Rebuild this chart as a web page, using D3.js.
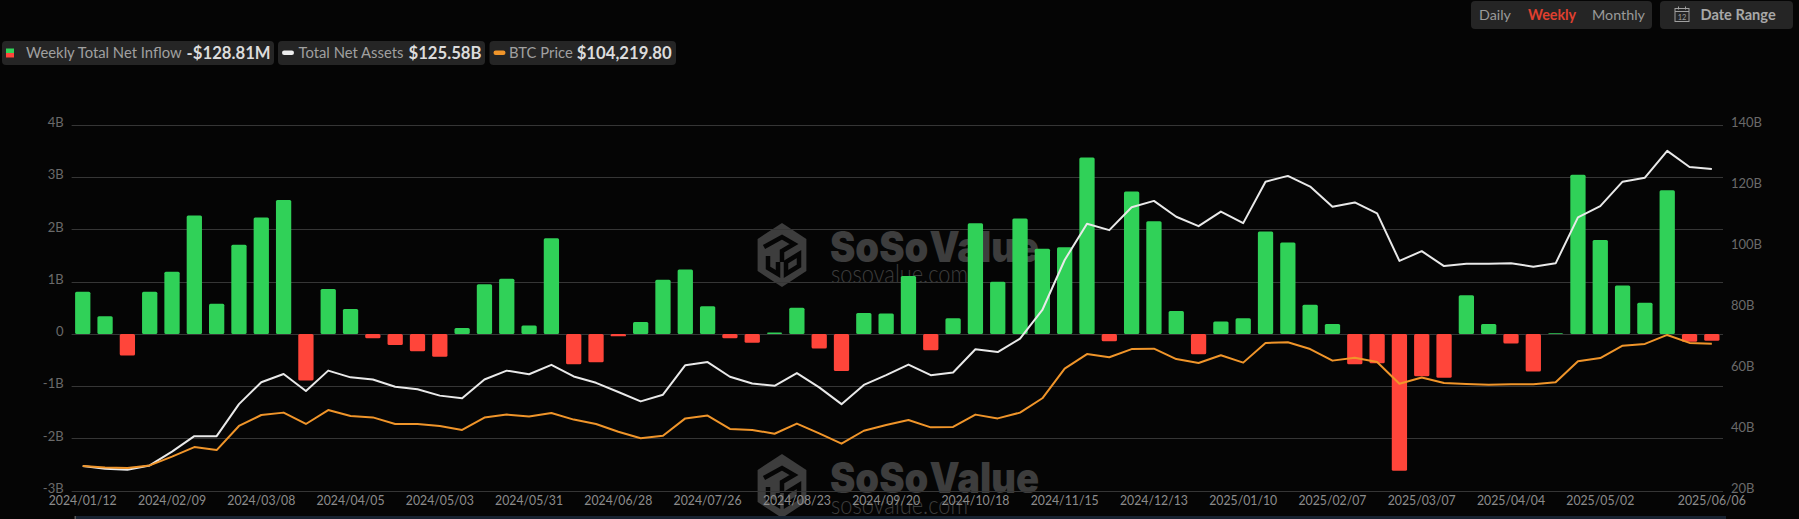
<!DOCTYPE html>
<html>
<head>
<meta charset="utf-8">
<script src="https://cdn.jsdelivr.net/npm/d3@7/dist/d3.min.js"></script>
<style>
html,body{margin:0;padding:0;background:#050505;overflow:hidden}
svg{display:block}
text{font-family:Lato,"Open Sans",sans-serif}
</style>
</head>
<body>
<svg id="chart" width="1799" height="519"></svg>
<script>
// ---- data ----
const firstDate = "2024-01-12";
const weekCount = 74;
const netInflowB = [0.81,0.34,-0.41,0.81,1.19,2.27,0.58,1.71,2.23,2.565,-0.89,0.86,0.48,-0.08,-0.21,-0.33,-0.435,0.115,0.95,1.055,0.16,1.83,-0.58,-0.54,-0.045,0.23,1.04,1.235,0.53,-0.08,-0.17,0.03,0.50,-0.28,-0.71,0.40,0.39,1.11,-0.31,0.30,2.12,1.0,2.21,1.63,1.66,3.38,-0.14,2.725,2.16,0.44,-0.39,0.24,0.30,1.96,1.75,0.56,0.19,-0.58,-0.56,-2.62,-0.81,-0.84,0.74,0.19,-0.18,-0.72,0.012,3.05,1.80,0.93,0.60,2.75,-0.15,-0.129];
const totalNetAssetsB = [28.1,27.2,26.9,28.3,32.8,37.9,37.9,48.4,55.6,58.3,52.7,59.4,57.2,56.5,54.1,53.3,51.2,50.3,56.5,59.4,58.2,61.3,57.5,55.4,52.4,49.3,51.5,61.2,62.2,57.4,55.2,54.4,58.6,53.9,48.4,54.7,57.9,61.4,57.9,58.8,66.4,65.5,69.9,79.3,95.7,107.6,105.5,113.0,115.1,109.9,106.8,111.6,107.8,121.4,123.3,119.8,113.2,114.6,111.0,95.4,98.6,93.7,94.5,94.5,94.6,93.5,94.6,109.7,113.4,121.4,122.7,131.5,126.2,125.58];
const btcPriceK = [42.8,42.0,41.8,43.1,47.5,52.3,50.8,62.9,68.4,69.6,63.9,70.9,67.9,67.2,63.9,63.9,62.9,60.9,67.1,68.6,67.6,69.4,66.1,63.9,60.0,56.7,58.0,66.7,68.1,61.4,60.9,59.0,64.1,59.2,54.0,60.5,63.4,65.9,62.2,62.4,68.6,66.7,69.6,76.8,91.7,99.0,97.4,101.5,101.7,96.5,94.5,98.4,94.7,104.6,104.9,101.5,95.7,97.2,95.0,84.1,87.2,84.5,84.0,83.6,83.8,83.8,84.8,95.4,97.0,103.2,104.1,108.6,104.6,104.2];
const leftTicks = [-3,-2,-1,0,1,2,3,4];
const rightTicks = [20,40,60,80,100,120,140];
const xTickIndexes = [0,4,8,12,16,20,24,28,32,36,40,44,48,52,56,60,64,68,73];
const legendItems = [
  {label:"Weekly Total Net Inflow", value:"-$128.81M"},
  {label:"Total Net Assets", value:"$125.58B"},
  {label:"BTC Price", value:"$104,219.80"}
];
const periodButtons = ["Daily","Weekly","Monthly"];

// ---- layout ----
const svg = d3.select("#chart");
const fmt = d3.utcFormat("%Y/%m/%d");
const startDate = new Date(firstDate+"T00:00:00Z");
const dates = d3.range(weekCount).map(i => d3.utcDay.offset(startDate, i*7));
const plotL = 71.6, plotR = 1723, plotT = 125, plotB = 490.7;

const x = d3.scaleBand().domain(dates).range([plotL,plotR]).paddingInner(0.315).paddingOuter(0.157);
const yL = d3.scaleLinear().domain([-3,4]).range([plotB,plotT]);
const yR = d3.scaleLinear().domain([20,140]).range([plotB,plotT]);
const yB = d3.scaleLinear().domain([30.4,214]).range([plotB,plotT]);
const cx = d => x(d)+x.bandwidth()/2;

// ---- watermarks (under everything) ----
function watermark(dy){
  const g = svg.append("g").attr("transform",`translate(0,${dy})`).attr("fill","#3d3d3d");
  const hex = d3.range(6).map(i=>{const a=Math.PI/3*i-Math.PI/2;return [782+32*Math.cos(a)*0.88,255+32*Math.sin(a)];});
  g.append("path").attr("d","M"+hex.join("L")+"Z").attr("fill","#3d3d3d");
  const c = g.append("g").attr("fill","none").attr("stroke","#050505").attr("stroke-width",4.5).attr("stroke-linejoin","miter");
  c.append("path").attr("d","M764 247 L782 237 L794 244 L782 251 L782 262");
  c.append("path").attr("d","M768 256 L768 268 L778 274 L778 262");
  c.append("path").attr("d","M786 262 L786 274 L799 266 L799 254 Z");
  g.append("text").attr("x",830).attr("y",262).attr("font-size",42).attr("font-weight",900)
    .attr("textLength",209).attr("lengthAdjust","spacingAndGlyphs").style("word-spacing","-7px")
    .style("font-family","Inter,Lato,sans-serif").text("SoSo Value");
  g.append("text").attr("x",831).attr("y",283).attr("font-size",25).attr("font-weight",300)
    .attr("textLength",137).attr("lengthAdjust","spacingAndGlyphs").text("sosovalue.com");
}
watermark(0); watermark(231);

// ---- grid + axes ----
const gridG = svg.append("g").attr("stroke","#363636").attr("stroke-width",1);
gridG.selectAll("line").data(leftTicks).join("line")
  .attr("x1",plotL).attr("x2",plotR).attr("y1",d=>Math.round(yL(d))+0.5).attr("y2",d=>Math.round(yL(d))+0.5);

const axL = svg.append("g").attr("transform",`translate(${plotL-8},-2.5)`)
  .call(d3.axisLeft(yL).tickValues(leftTicks).tickSize(0).tickPadding(0).tickFormat(d=>d===0?"0":d+"B"));
const axR = svg.append("g").attr("transform",`translate(${plotR+8},-2.5)`)
  .call(d3.axisRight(yR).tickValues(rightTicks).tickSize(0).tickPadding(0).tickFormat(d=>d+"B"));
const axX = svg.append("g").attr("transform","translate(0,495.5)")
  .call(d3.axisBottom(x).tickValues(xTickIndexes.map(i=>dates[i])).tickSize(0).tickPadding(0).tickFormat(fmt));
[axL,axR].forEach(a=>{a.select(".domain").remove();a.selectAll("text").attr("fill","#6a6a6a").attr("font-size",13).style("font-family","Lato,sans-serif");});
axX.select(".domain").remove();
axX.selectAll("text").attr("fill","#8c8c8c").attr("font-size",13.5).style("font-family","Lato,sans-serif")
  .attr("textLength",68).attr("lengthAdjust","spacingAndGlyphs");

// ---- bars ----
svg.append("g").selectAll("rect").data(dates).join("rect")
  .attr("x",d=>x(d)).attr("width",x.bandwidth())
  .attr("y",(d,i)=>yL(Math.max(0,netInflowB[i])))
  .attr("height",(d,i)=>Math.abs(yL(netInflowB[i])-yL(0)))
  .attr("rx",1.5)
  .attr("fill",(d,i)=>netInflowB[i]>=0?"#30d158":"#ff453a");

// ---- lines ----
const lineOf = (arr,y) => d3.line().x(cx).y((d,i)=>y(arr[i]));
svg.append("path").attr("d",lineOf(totalNetAssetsB,yR)(dates)).attr("fill","none").attr("stroke","#e9e9e9").attr("stroke-width",2).attr("stroke-linejoin","round");
svg.append("path").attr("d",lineOf(btcPriceK,yB)(dates)).attr("fill","none").attr("stroke","#f0952a").attr("stroke-width",2).attr("stroke-linejoin","round");

// ---- legend ----
const legend = svg.append("g");
const pills = [[2,274],[278,485],[489.5,676]];
legend.selectAll("rect.pill").data(pills).join("rect").attr("class","pill")
  .attr("x",d=>d[0]).attr("y",41).attr("width",d=>d[1]-d[0]).attr("height",24).attr("rx",4).attr("fill","#252525");
legend.append("rect").attr("x",6).attr("y",48.5).attr("width",8).attr("height",4.5).attr("fill","#30d158");
legend.append("rect").attr("x",6).attr("y",53).attr("width",8).attr("height",4.5).attr("fill","#ff453a");
legend.append("rect").attr("x",282).attr("y",50.5).attr("width",12).attr("height",4.5).attr("rx",2.2).attr("fill","#eeeeee");
legend.append("rect").attr("x",493.5).attr("y",50.5).attr("width",12).attr("height",4.5).attr("rx",2.2).attr("fill","#f0952a");
const labelX = [26,298.5,509], valueX = [186.6,408.5,576.7];
legend.selectAll("text.lab").data(legendItems).join("text").attr("class","lab")
  .attr("x",(d,i)=>labelX[i]).attr("y",58).attr("font-size",14.8).attr("fill","#a0a0a0").text(d=>d.label);
legend.selectAll("text.val").data(legendItems).join("text").attr("class","val")
  .attr("x",(d,i)=>valueX[i]).attr("y",58.5).attr("font-size",16.7).attr("font-weight",700).attr("fill","#dcdcdc").text(d=>d.value);

// ---- top-right controls ----
const ctl = svg.append("g");
ctl.append("rect").attr("x",1471).attr("y",1).attr("width",181).attr("height",28).attr("rx",4).attr("fill","#252525");
ctl.append("rect").attr("x",1660).attr("y",1).attr("width",133).attr("height",28).attr("rx",4).attr("fill","#252525");
const btnX = [1479,1528,1592];
ctl.selectAll("text.btn").data(periodButtons).join("text").attr("class","btn")
  .attr("x",(d,i)=>btnX[i]).attr("y",20).attr("font-size",14.3)
  .attr("font-weight",(d)=>d==="Weekly"?700:400)
  .attr("fill",d=>d==="Weekly"?"#e0402f":"#9a9a9a").text(d=>d);
ctl.append("text").attr("x",1700.5).attr("y",20).attr("font-size",14.6).attr("font-weight",700).attr("fill","#a8a8a8").text("Date Range");
const ic = ctl.append("g").attr("fill","none").attr("stroke","#a0a0a0").attr("stroke-width",1);
ic.append("rect").attr("x",1675).attr("y",8.5).attr("width",14).attr("height",13);
ic.append("path").attr("d","M1675 11.5H1689M1678.5 6.5V9.5M1685.5 6.5V9.5");
ctl.append("text").attr("x",1682).attr("y",20).attr("text-anchor","middle").attr("font-size",7.5).attr("fill","#a0a0a0").text("12");

// ---- bottom slider strip ----
svg.append("rect").attr("x",75).attr("y",516).attr("width",1651).attr("height",3).attr("fill","#172230");
svg.append("rect").attr("x",74.5).attr("y",516).attr("width",1.5).attr("height",3).attr("fill","#555");
</script>
</body>
</html>
